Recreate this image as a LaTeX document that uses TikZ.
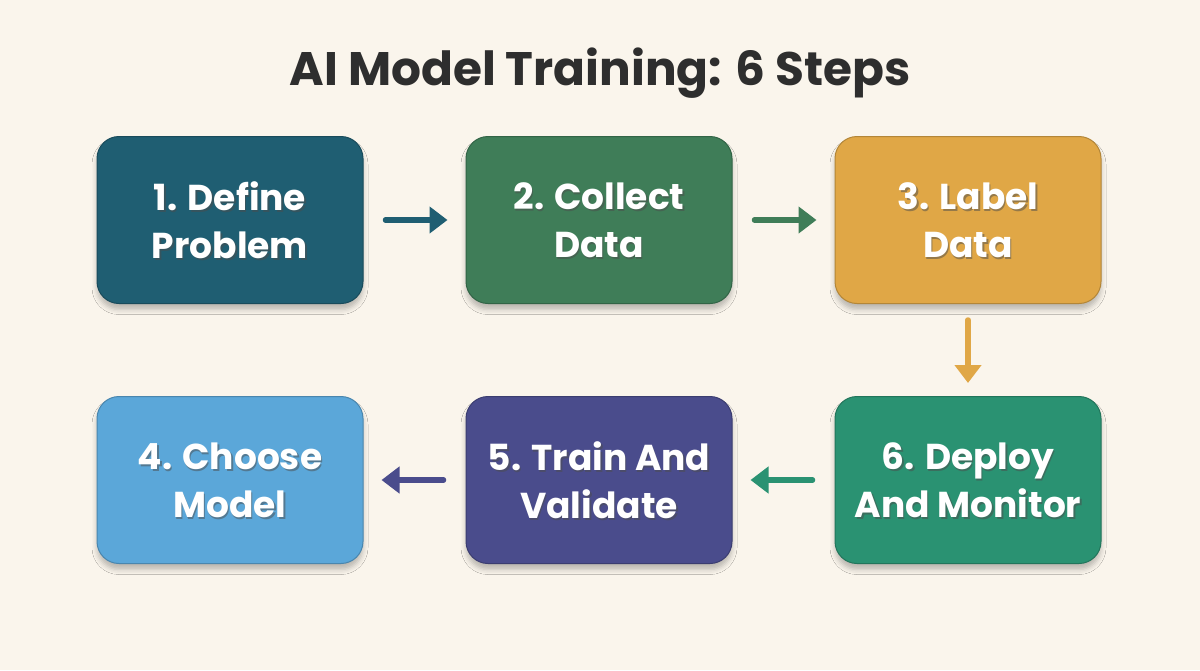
\documentclass[tikz,border=0pt]{standalone}
\usepackage{fontspec}
\setmainfont{Poppins}
\usetikzlibrary{arrows.meta,shadows.blur}
\definecolor{bg}{HTML}{FAF5EC}
\definecolor{cA}{HTML}{1F5E72}
\definecolor{cB}{HTML}{3F7D58}
\definecolor{cC}{HTML}{E0A746}
\definecolor{cD}{HTML}{5BA7D9}
\definecolor{cE}{HTML}{4A4C8C}
\definecolor{cF}{HTML}{2A9272}
\definecolor{ttl}{HTML}{2E2E2E}
\tikzset{
  stepbox/.style={rounded corners=22pt, minimum width=266pt, minimum height=167pt,
    inner sep=0pt, fill=#1, draw=#1!80!black, line width=1pt,
    blur shadow={shadow xshift=0pt, shadow yshift=-6pt, shadow blur radius=5pt, shadow opacity=25}},
  steptext/.style={text=white, font=\bfseries\fontsize{36}{48}\selectfont, align=center},
  shadowtext/.style={text=black!70, opacity=0.5, font=\bfseries\fontsize{36}{48}\selectfont, align=center},
  flow/.style={line width=5.5pt, draw=#1, -{Triangle[length=18pt,width=26pt]}, line cap=round},
}
\newcommand{\stepnode}[4]{%
  \node[stepbox=#2] (#1) at #3 {};
  \node[shadowtext] (#1s) at ([xshift=1.5pt,yshift=-2.5pt]#1.center) {#4};
  \node[steptext] (#1t) at (#1.center) {#4};
}
\begin{document}
\begin{tikzpicture}[x=1pt,y=-1pt]
\useasboundingbox (0,0) rectangle (1200,670);
\fill[bg] (0,0) rectangle (1200,670);
\node[font=\bfseries\fontsize{47}{54}\selectfont, text=ttl] (title) at (600,73) {AI Model Training: 6 Steps};
\stepnode{s1}{cA}{(230,220)}{1. Define\\Problem}
\stepnode{s2}{cB}{(599,220)}{2. Collect\\Data}
\stepnode{s3}{cC}{(968,220)}{3. Label\\Data}
\stepnode{s4}{cD}{(230,480)}{4. Choose\\Model}
\stepnode{s5}{cE}{(599,480)}{5. Train And\\Validate}
\stepnode{s6}{cF}{(968,480)}{6. Deploy\\And Monitor}
\draw[flow=cA] ([xshift=22pt]s1.east) -- ([xshift=-18pt]s2.west);
\draw[flow=cB] ([xshift=22pt]s2.east) -- ([xshift=-18pt]s3.west);
\draw[flow=cC] ([yshift=-16pt]s3.south) -- ([yshift=13pt]s6.north);
\draw[flow=cF] ([xshift=-22pt]s6.west) -- ([xshift=18pt]s5.east);
\draw[flow=cE] ([xshift=-22pt]s5.west) -- ([xshift=18pt]s4.east);
\end{tikzpicture}
\end{document}
